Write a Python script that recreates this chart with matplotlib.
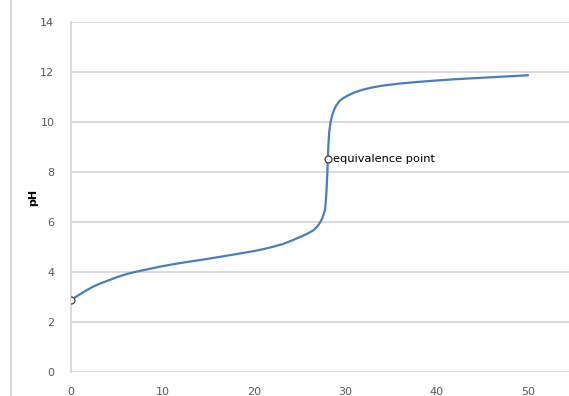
import matplotlib
matplotlib.use("Agg")
import matplotlib.pyplot as plt
from matplotlib.lines import Line2D

# Titration curve: volume of base added vs. pH
volume = [0, 0.5, 1, 1.6, 2.4, 3.2, 4, 5, 6.1, 7, 8, 9.7, 11, 12.5, 14, 16, 18,
          19.9, 21, 22, 23.2, 24.3, 25.2, 25.9, 26.5, 26.9, 27.2, 27.5, 27.8,
          27.95, 28.05, 28.1, 28.15, 28.25, 28.4, 28.6, 28.8, 29.0, 29.4, 29.8,
          30.3, 31, 31.8, 32.8, 34, 36, 38.2, 40, 42, 45, 48, 50]
ph = [2.88, 3.0, 3.11, 3.25, 3.41, 3.54, 3.65, 3.79, 3.92, 4.0, 4.08, 4.21,
      4.3, 4.39, 4.47, 4.59, 4.71, 4.83, 4.91, 5.0, 5.12, 5.28, 5.42, 5.54,
      5.66, 5.8, 5.95, 6.15, 6.5, 7.2, 8.0, 8.52, 9.0, 9.6, 10.0, 10.3, 10.5,
      10.65, 10.85, 10.96, 11.06, 11.18, 11.28, 11.37, 11.45, 11.54, 11.61,
      11.66, 11.71, 11.77, 11.83, 11.87]

start_point = (0, 2.88)
equiv_point = (28.1, 8.52)
equiv_label = "equivalence point"

y_ticks = [0, 2, 4, 6, 8, 10, 12, 14]
x_ticks = [0, 10, 20, 30, 40, 50]

W, H = 569, 396
fig = plt.figure(figsize=(W / 100, H / 100), dpi=100)
fig.patch.set_facecolor("white")

ax = fig.add_axes([71 / W, (H - 372) / H, (W - 71) / W, 350 / H])
ax.set_xlim(0, (W - 71) / 9.14)
ax.set_ylim(0, 14)

grid_color = "#d4d4d4"
for y in y_ticks:
    ax.axhline(y, color=grid_color, lw=1.2, zorder=1)

for side in ["top", "right", "bottom"]:
    ax.spines[side].set_visible(False)
ax.spines["left"].set_color(grid_color)
ax.spines["left"].set_linewidth(1.2)

ax.set_yticks(y_ticks)
ax.set_xticks(x_ticks)
ax.tick_params(axis="both", length=0, labelsize=8, labelcolor="#595959")
ax.tick_params(axis="y", pad=12)
ax.tick_params(axis="x", pad=11)

ax.plot(volume, ph, color="#4a7ebb", lw=1.6, zorder=3,
        solid_capstyle="round", solid_joinstyle="round")

for pt in (start_point, equiv_point):
    ax.plot(*pt, marker="o", ms=5, mfc="white", mec="#404040", mew=0.9, zorder=4)

ax.annotate(equiv_label, xy=equiv_point, xytext=(4, 0), textcoords="offset points",
            ha="left", va="center", fontsize=8.2, color="black")

ax.set_ylabel("pH", fontsize=8, fontweight="bold")
ax.yaxis.set_label_coords(-33 / (W - 71), 0.5)

# outer chart border on the left
fig.add_artist(Line2D([11 / W, 11 / W], [0, 1], color="#cfcfcf", lw=1.2,
                      transform=fig.transFigure))

fig.savefig("out.png", dpi=100)
